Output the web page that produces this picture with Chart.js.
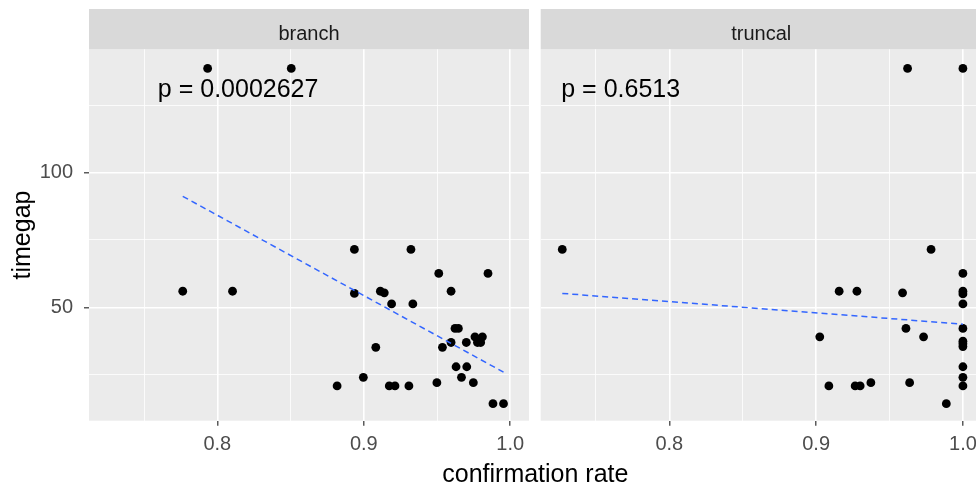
<!DOCTYPE html>
<html>
<head>
<meta charset="utf-8">
<title>timegap vs confirmation rate</title>
<script src="https://cdn.jsdelivr.net/npm/chart.js@4.4.1/dist/chart.umd.min.js"></script>
<style>
  html, body { margin: 0; padding: 0; background: #fff; overflow: hidden; }
  #wrap { position: relative; width: 976px; height: 489px; overflow: hidden; background: #fff; }
  #wrap canvas { position: absolute; top: 0; left: 0; }
</style>
</head>
<body>
<div id="wrap">
  <canvas id="branchChart" width="976" height="489"></canvas>
  <canvas id="truncalChart" width="990" height="489"></canvas>
</div>
<script>
// Facet: branch
const branchRate = [0.7934, 0.8505, 0.7764, 0.8104, 0.8936, 0.9322, 0.9512, 0.9848,
  0.8936, 0.9113, 0.9140, 0.9596, 0.9190, 0.9335, 0.9623, 0.9646, 0.9082, 0.9537,
  0.9596, 0.9700, 0.9776, 0.9798, 0.9759, 0.9810, 0.9630, 0.9703, 0.9667, 0.8997,
  0.8818, 0.9174, 0.9213, 0.9308, 0.9499, 0.9748, 0.9882, 0.9954];
const branchGap = [138.6, 138.6, 56.0, 56.0, 71.5, 71.5, 62.6, 62.6,
  55.2, 56.0, 55.4, 56.0, 51.3, 51.3, 42.2, 42.2, 35.2, 35.2,
  37.0, 37.0, 37.0, 37.0, 39.1, 39.1, 28.0, 28.0, 24.1, 24.1,
  20.9, 20.9, 20.9, 20.9, 22.1, 22.1, 14.3, 14.3];
const branchFitRate = [0.7764, 0.9954];
const branchFitGap = [91.2, 26.0];

// Facet: truncal
const truncalRate = [0.7271, 0.9783, 1.0, 0.9157, 0.9278, 0.9589, 1.0, 1.0, 1.0,
  0.9612, 1.0, 0.9025, 0.9732, 1.0, 1.0, 1.0, 1.0, 1.0, 1.0,
  0.9087, 0.9266, 0.9300, 0.9373, 0.9637, 0.9887, 0.9623, 1.0];
const truncalGap = [71.5, 71.5, 62.6, 56.0, 56.0, 55.4, 56.0, 55.0, 51.3,
  42.2, 42.2, 39.1, 39.1, 37.5, 36.5, 35.5, 28.0, 24.1, 20.9,
  20.9, 20.9, 20.9, 22.1, 22.1, 14.3, 138.6, 138.6];
const truncalFitRate = [0.7271, 1.0];
const truncalFitGap = [55.2, 43.8];

// Strip names and p-value labels (position in data units)
const facetNames = ['branch', 'truncal'];
const pLabels = ['p = 0.0002627', 'p = 0.6513'];
const pLabelRate = [0.7594, 0.7264];
const pLabelGap = [128.1, 128.1];

// Axis breaks, limits and titles
const xBreaks = [0.75, 0.8, 0.85, 0.9, 0.95, 1.0];
const xBreakLabels = ['', '0.8', '', '0.9', '', '1.0'];
const yBreaks = [25, 50, 75, 100, 125];
const yBreakLabels = ['', '50', '', '100', ''];
const xLimits = [0.7124, 1.0128];
const yLimits = [8.0, 145.7];
const xTitle = 'confirmation rate';
const yTitle = 'timegap';

// Layout (pixels)
const STRIP_TOP = 9;
const PLOT_TOP = 49.3;
const X_AXIS_H = 68.3;
const LEFT_PANEL = [89, 529];
const RIGHT_PANEL = [540.7, 981.7];
const FONT = "'Liberation Sans', Arial, sans-serif";

function toPoints(xs, ys) {
  return xs.map((x, i) => ({ x: x, y: ys[i] }));
}

function isMajor(breaks, labels, value) {
  const i = breaks.indexOf(value);
  return i >= 0 && labels[i] !== '';
}

// Panel background, grey strip, p-value text and shared x title
const facetDecor = {
  id: 'facetDecor',
  beforeDraw(chart, args, opts) {
    const { ctx, chartArea: a } = chart;
    ctx.save();
    ctx.fillStyle = '#EBEBEB';
    ctx.fillRect(a.left, a.top, a.right - a.left, a.bottom - a.top);
    ctx.fillStyle = '#D9D9D9';
    ctx.fillRect(a.left, STRIP_TOP, a.right - a.left, a.top - STRIP_TOP);
    ctx.fillStyle = '#1A1A1A';
    ctx.font = '20px ' + FONT;
    ctx.textAlign = 'center';
    ctx.textBaseline = 'alphabetic';
    ctx.fillText(opts.strip, (a.left + a.right) / 2, 40);
    ctx.restore();
  },
  afterDraw(chart, args, opts) {
    const { ctx, scales } = chart;
    ctx.save();
    ctx.fillStyle = '#000000';
    ctx.font = '25px ' + FONT;
    ctx.textBaseline = 'alphabetic';
    ctx.textAlign = 'left';
    ctx.fillText(opts.pText, scales.x.getPixelForValue(opts.pX), scales.y.getPixelForValue(opts.pY));
    if (opts.xTitle) {
      ctx.textAlign = 'center';
      ctx.fillText(opts.xTitle, (LEFT_PANEL[0] + RIGHT_PANEL[1]) / 2, 482);
    }
    ctx.restore();
  }
};

function xScale() {
  return {
    type: 'linear',
    min: xLimits[0],
    max: xLimits[1],
    border: { display: false },
    grid: {
      color: '#FFFFFF',
      lineWidth: ctx => (ctx.tick && isMajor(xBreaks, xBreakLabels, ctx.tick.value)) ? 1.6 : 0.8,
      tickLength: 5,
      tickWidth: 1.2,
      tickColor: ctx => (ctx.tick && isMajor(xBreaks, xBreakLabels, ctx.tick.value)) ? '#333333' : 'rgba(0,0,0,0)'
    },
    ticks: {
      autoSkip: false,
      maxRotation: 0,
      padding: 7,
      color: '#4D4D4D',
      font: { family: FONT, size: 20 },
      callback: value => xBreakLabels[xBreaks.indexOf(value)]
    },
    afterBuildTicks: scale => { scale.ticks = xBreaks.map(v => ({ value: v })); },
    afterFit: scale => { scale.height = X_AXIS_H; }
  };
}

function yScale(showLabels, width) {
  return {
    type: 'linear',
    min: yLimits[0],
    max: yLimits[1],
    border: { display: false },
    title: {
      display: showLabels,
      text: yTitle,
      color: '#000000',
      font: { family: FONT, size: 25 },
      padding: { top: 8, bottom: 0 }
    },
    grid: {
      color: '#FFFFFF',
      lineWidth: ctx => (ctx.tick && isMajor(yBreaks, yBreakLabels, ctx.tick.value)) ? 1.6 : 0.8,
      drawTicks: showLabels,
      tickLength: 5,
      tickWidth: 1.2,
      tickColor: ctx => (ctx.tick && isMajor(yBreaks, yBreakLabels, ctx.tick.value)) ? '#333333' : 'rgba(0,0,0,0)'
    },
    ticks: {
      display: showLabels,
      autoSkip: false,
      padding: 11,
      color: '#4D4D4D',
      font: { family: FONT, size: 20 },
      callback: value => yBreakLabels[yBreaks.indexOf(value)]
    },
    afterBuildTicks: scale => { scale.ticks = yBreaks.map(v => ({ value: v })); },
    afterFit: scale => { scale.width = width; }
  };
}

function createPanel(canvasId, facet, rates, gaps, fitRates, fitGaps, first) {
  const ctx = document.getElementById(canvasId).getContext('2d');
  const canvasWidth = ctx.canvas.width;
  const panel = first ? LEFT_PANEL : RIGHT_PANEL;

  return new Chart(ctx, {
    type: 'scatter',
    data: {
      datasets: [
        {
          type: 'line',
          data: toPoints(fitRates, fitGaps),
          borderColor: '#3366FF',
          borderWidth: 1.5,
          borderDash: [6, 4],
          pointRadius: 0,
          fill: false
        },
        {
          data: toPoints(rates, gaps),
          backgroundColor: '#000000',
          borderWidth: 0,
          pointRadius: 4.4
        }
      ]
    },
    plugins: [facetDecor],
    options: {
      responsive: false,
      animation: false,
      layout: {
        padding: { top: PLOT_TOP, right: canvasWidth - panel[1], bottom: 0, left: 0 }
      },
      plugins: {
        legend: { display: false },
        tooltip: { enabled: false },
        facetDecor: {
          strip: facetNames[facet],
          pText: pLabels[facet],
          pX: pLabelRate[facet],
          pY: pLabelGap[facet],
          xTitle: first ? xTitle : null
        }
      },
      scales: {
        x: xScale(),
        y: yScale(first, panel[0])
      }
    }
  });
}

createPanel('branchChart', 0, branchRate, branchGap, branchFitRate, branchFitGap, true);
createPanel('truncalChart', 1, truncalRate, truncalGap, truncalFitRate, truncalFitGap, false);
</script>
</body>
</html>
